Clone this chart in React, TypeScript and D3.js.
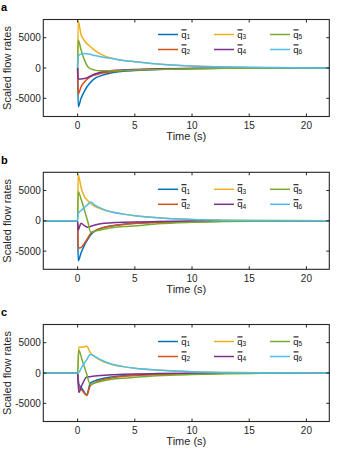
import React from "react";
import * as d3 from "d3";

// line colours (MATLAB default order) and legend labels
const colors = ["#0072BD", "#D95319", "#EDB120", "#7E2F8E", "#77AC30", "#4DBEEE"];
const subs = ["1", "2", "3", "4", "5", "6"];
const xTicks = [0, 5, 10, 15, 20];
const yTicks = [-5000, 0, 5000];

// panel a
const timeA = [0, 0.05, 0.3, 0.6, 1, 1.5, 2, 3, 4, 5, 7, 10, 13, 16, 22];
const aQ1 = [0, -6400, -5000, -3800, -2650, -1700, -1300, -800, -550, -420, -230, -100, -50, -25, 0];
const aQ2 = [0, -4300, -3100, -2300, -1600, -1150, -900, -600, -430, -320, -180, -80, -40, -20, 0];
const aQ3 = [0, 7700, 5500, 4500, 3700, 2900, 2300, 1600, 1250, 1050, 650, 330, 170, 80, 20];
const aQ4 = [0, -1800, -1800, -1750, -1450, -1000, -700, -420, -300, -230, -140, -70, -30, -15, 0];
const aQ5 = [0, 4600, 3000, 1300, 0, -350, -450, -450, -400, -350, -230, -110, -50, -25, 0];
const aQ6 = [0, 2000, 2300, 2400, 2300, 2050, 1850, 1550, 1250, 1050, 650, 330, 170, 80, 20];

// panel b
const timeB = [-3, 0, 0.05, 0.3, 0.6, 0.9, 1.15, 1.5, 2, 3, 4, 5, 7, 10, 13, 16, 22];
const bQ1 = [0, 0, -6600, -5300, -4000, -3000, -2300, -1700, -1250, -800, -550, -420, -250, -110, -50, -25, 0];
const bQ2 = [0, 0, -4500, -4400, -3700, -2800, -2050, -1650, -1250, -850, -600, -450, -270, -120, -55, -25, 0];
const bQ3 = [0, 0, 7600, 5500, 4000, 3300, 2850, 2400, 2000, 1450, 1100, 850, 500, 220, 100, 45, 0];
const bQ4 = [0, 0, -1500, -400, -800, -1050, -900, -700, -480, -330, -250, -200, -120, -50, -25, -10, 0];
const bQ5 = [0, 0, 4800, 3600, 1700, -200, -1900, -1700, -1500, -1150, -950, -850, -500, -250, -120, -60, 0];
const bQ6 = [0, 0, 1200, 1700, 2200, 2700, 3100, 2600, 2100, 1450, 1100, 850, 500, 220, 100, 45, 0];

// panel c
const timeC = [-3, 0, 0.1, 0.4, 0.8, 1.1, 1.5, 2, 3, 4, 5, 7, 10, 13, 16, 22];
const cQ1 = [0, 0, -1800, -2600, -3600, -1700, -1300, -1000, -650, -450, -350, -200, -90, -45, -20, 0];
const cQ2 = [0, 0, -2300, -2900, -3700, -2100, -1600, -1200, -800, -550, -420, -250, -110, -55, -25, 0];
const cQ3 = [0, 0, 4250, 4300, 4400, 3400, 2700, 2100, 1400, 1050, 800, 480, 200, 90, 40, 0];
const cQ4 = [0, 0, -3200, -1900, -650, -600, -500, -400, -300, -220, -170, -100, -50, -25, -10, 0];
const cQ5 = [0, 0, 3800, 2100, -200, -1900, -1650, -1400, -1050, -850, -700, -450, -250, -120, -60, 0];
const cQ6 = [0, 0, 100, 1100, 2200, 3050, 2750, 2200, 1450, 1050, 800, 480, 200, 90, 40, 0];

const panels = [
  { label: "a", top: 19.5, time: timeA, series: [aQ1, aQ2, aQ3, aQ4, aQ5, aQ6], legendOff: 15 },
  { label: "b", top: 172.3, time: timeB, series: [bQ1, bQ2, bQ3, bQ4, bQ5, bQ6], legendOff: 17 },
  { label: "c", top: 324.5, time: timeC, series: [cQ1, cQ2, cQ3, cQ4, cQ5, cQ6], legendOff: 17 },
];

const W = 339;
const H = 451;
const left = 43.3;
const right = 329.3;
const boxH = 97;
const axisColor = "#262626";
const font = "Arial, 'Liberation Sans', sans-serif";

function Panel({ p }) {
  const x = d3.scaleLinear().domain([-3, 22]).range([left, right]);
  const y = d3.scaleLinear().domain([-8000, 8000]).range([p.top + boxH, p.top]);
  const bottom = p.top + boxH;

  const line = d3
    .line<number>()
    .x((_, i) => x(p.time[i]))
    .y((d) => y(d))
    .curve(d3.curveMonotoneX);

  const legendCols = [158, 214, 270];

  return (
    <g>
      <text x={1} y={p.top - 8.5} fontFamily={font} fontWeight="bold" fontSize={11} fill="#000">
        {p.label}
      </text>

      {p.series.map((s, i) => (
        <path key={i} d={line(s) || ""} fill="none" stroke={colors[i]} strokeWidth={1.5} />
      ))}

      {/* box */}
      <rect x={left} y={p.top} width={right - left} height={boxH} fill="none" stroke={axisColor} strokeWidth={1.1} />

      {/* x ticks */}
      {xTicks.map((t) => (
        <g key={t}>
          <line x1={x(t)} x2={x(t)} y1={bottom} y2={bottom - 3} stroke={axisColor} />
          <line x1={x(t)} x2={x(t)} y1={p.top} y2={p.top + 3} stroke={axisColor} />
          <text x={x(t)} y={bottom + 12.3} textAnchor="middle" fontFamily={font} fontSize={10} fill={axisColor}>
            {t}
          </text>
        </g>
      ))}

      {/* y ticks */}
      {yTicks.map((t) => (
        <g key={t}>
          <line x1={left} x2={left + 3} y1={y(t)} y2={y(t)} stroke={axisColor} />
          <line x1={right} x2={right - 3} y1={y(t)} y2={y(t)} stroke={axisColor} />
          <text x={left - 2.5} y={y(t) + 3.6} textAnchor="end" fontFamily={font} fontSize={10} fill={axisColor}>
            {t}
          </text>
        </g>
      ))}

      <text x={(left + right) / 2} y={bottom + 23.5} textAnchor="middle" fontFamily={font} fontSize={11} fill={axisColor}>
        Time (s)
      </text>
      <text
        transform={`translate(10.7,${p.top + boxH / 2}) rotate(-90)`}
        textAnchor="middle"
        fontFamily={font}
        fontSize={11}
        fill={axisColor}
      >
        Scaled flow rates
      </text>

      {/* legend: 3 columns x 2 rows */}
      {colors.map((c, i) => {
        const lx = legendCols[Math.floor(i / 2)];
        const ly = p.top + p.legendOff + (i % 2) * 15;
        return (
          <g key={i}>
            <line x1={lx} x2={lx + 20} y1={ly} y2={ly} stroke={c} strokeWidth={1.5} />
            <line x1={lx + 23.5} x2={lx + 28.5} y1={ly - 4.6} y2={ly - 4.6} stroke="#111" strokeWidth={1.1} />
            <text x={lx + 23.3} y={ly + 3} fontFamily={font} fontSize={9.5} fill="#111">
              q
              <tspan fontSize={6.5} dy={1.4}>
                {subs[i]}
              </tspan>
            </text>
          </g>
        );
      })}
    </g>
  );
}

export default function App() {
  return (
    <svg
      width={W}
      height={H}
      viewBox={`0 0 ${W} ${H}`}
      style={{ position: "absolute", left: 0, top: 0, background: "#fff" }}
    >
      <rect width={W} height={H} fill="#fff" />
      {panels.map((p) => (
        <Panel key={p.label} p={p} />
      ))}
    </svg>
  );
}
